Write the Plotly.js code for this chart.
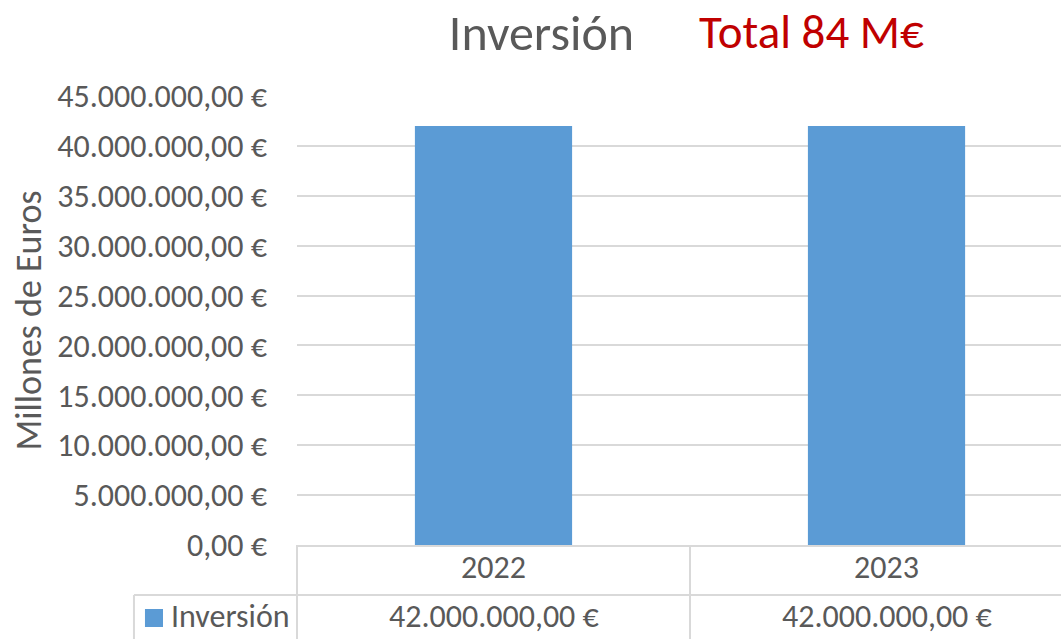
<!DOCTYPE html>
<html>
<head>
<meta charset="utf-8">
<script src="https://cdn.plot.ly/plotly-3.0.1.min.js"></script>
<style>html,body{margin:0;padding:0;background:#fff;}#chart{width:1061px;height:639px;}</style>
</head>
<body>
<div id="chart"></div>
<script>
const categories = ["2022", "2023"];
const inversion = [42000000, 42000000];
const seriesName = "Inversión";
const titleMain = "Inversión";
const titleTotal = "Total 84 M€";
const yTitle = "Millones de Euros";

const FONT = "Carlito, 'Open Sans', sans-serif";
const GRAY = "#595959";
const LINE = "#d9d9d9";
const BAR = "#5b9bd5";

function fmt(v) {
  const parts = v.toFixed(2).split(".");
  const intPart = parts[0].replace(/\B(?=(\d{3})+(?!\d))/g, ".");
  return intPart + "," + parts[1] + " €";
}

const trace = {
  type: "bar",
  x: categories,
  y: inversion,
  name: seriesName,
  marker: {color: BAR},
  hoverinfo: "skip"
};

const annotations = categories.map((c, i) => ({
  x: i, xref: "x", y: -0.16, yref: "paper",
  text: fmt(inversion[i]), showarrow: false,
  xanchor: "center", yanchor: "middle",
  font: {family: FONT, size: 32, color: GRAY}
}));
annotations.push({
  x: -0.167, xref: "paper", y: -0.16, yref: "paper",
  text: seriesName, showarrow: false,
  xanchor: "left", yanchor: "middle",
  font: {family: FONT, size: 32, color: GRAY}
});
annotations.push({
  x: (697 - 297) / 764, xref: "paper", y: 1 + (96 - 32) / 449, yref: "paper",
  text: titleTotal, showarrow: false,
  xanchor: "left", yanchor: "middle",
  font: {family: FONT, size: 47, color: "#c00000"}
});

const shapes = [
  {type: "line", xref: "paper", yref: "paper", x0: 0, x1: 0, y0: 0, y1: -0.25, line: {color: LINE, width: 2}},
  {type: "line", xref: "x", yref: "paper", x0: 0.5, x1: 0.5, y0: 0, y1: -0.25, line: {color: LINE, width: 2}},
  {type: "line", xref: "paper", yref: "paper", x0: -0.2134, x1: 1, y0: -0.1114, y1: -0.1114, line: {color: LINE, width: 2}},
  {type: "line", xref: "paper", yref: "paper", x0: -0.2134, x1: -0.2134, y0: -0.1114, y1: -0.25, line: {color: LINE, width: 2}},
  {type: "rect", xref: "paper", yref: "paper", x0: -0.199, x1: -0.1754, y0: -0.1425, y1: -0.1826, fillcolor: BAR, line: {width: 0}}
];

const layout = {
  width: 1061, height: 639,
  margin: {l: 297, r: 0, t: 96, b: 94, pad: 0},
  paper_bgcolor: "#ffffff", plot_bgcolor: "#ffffff",
  separators: ",.",
  showlegend: false,
  bargap: 0.6,
  title: {
    text: titleMain,
    x: 541.5 / 1061, xanchor: "center", xref: "container",
    y: 1 - 32 / 639, yanchor: "middle", yref: "container",
    font: {family: FONT, size: 50, color: GRAY}
  },
  xaxis: {
    type: "category",
    range: [-0.5, 1.444],
    showgrid: false,
    showline: true, linecolor: LINE, linewidth: 2,
    ticks: "", ticklabelstandoff: -7,
    tickfont: {family: FONT, size: 32, color: GRAY},
    fixedrange: true
  },
  yaxis: {
    range: [0, 45000000],
    tick0: 0, dtick: 5000000,
    tickformat: ",.2f", ticksuffix: " €",
    showgrid: true, gridcolor: LINE, gridwidth: 2,
    zeroline: false, showline: false,
    ticks: "", ticklabelstandoff: 29,
    tickfont: {family: FONT, size: 32, color: GRAY},
    title: {text: yTitle, font: {family: FONT, size: 36, color: GRAY}, standoff: 4},
    fixedrange: true
  },
  annotations: annotations,
  shapes: shapes
};

Plotly.newPlot("chart", [trace], layout, {displayModeBar: false, staticPlot: true});
</script>
</body>
</html>
